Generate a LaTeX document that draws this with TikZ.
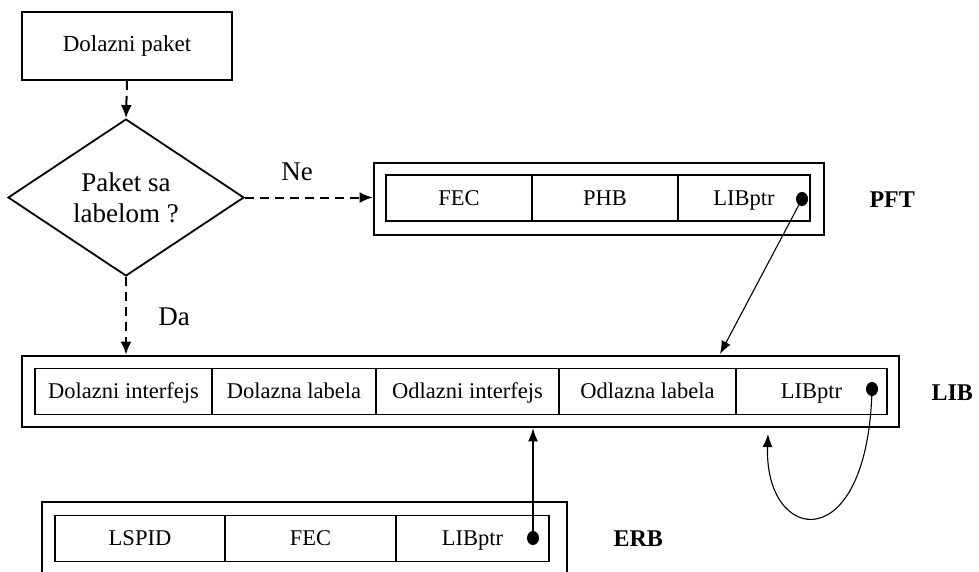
\documentclass[tikz,border=0pt]{standalone}
\usepackage{fontspec}
\setmainfont{Liberation Serif}
\usetikzlibrary{shapes.geometric,arrows.meta,calc}

\begin{document}
\begin{tikzpicture}[x=1pt,y=-1pt,
  tablefont/.style={font=\fontsize{22.5}{26}\selectfont},
  bigfont/.style={font=\fontsize{27}{32}\selectfont},
  frame/.style={draw, line width=2.8pt, inner sep=0pt, minimum height=#1},
  cell/.style={draw, line width=1.1pt, inner sep=0pt, minimum height=46pt, minimum width=#1,
    text height=17pt, text depth=3pt, tablefont},
  ptrdot/.style={ellipse, fill=black, inner sep=0pt, minimum width=12pt, minimum height=14pt},
  tablename/.style={anchor=west, font=\fontsize{24}{28}\selectfont\bfseries},
  dasharrow/.style={line width=2pt, dash pattern=on 9pt off 6pt, -{Latex[length=13pt,width=11pt]}},
  ptrarrow/.style={line width=1.1pt, -{Latex[length=13pt,width=10pt]}},
]
\clip (0,0) rectangle (979,571);

% start box and decision
\node[draw, line width=1.8pt, minimum width=210pt, minimum height=68pt, inner sep=0pt,
  font=\fontsize{23}{27}\selectfont] (start) at (127,46) {Dolazni paket};
\node[diamond, draw, line width=1.8pt, inner sep=0pt, minimum width=236pt, minimum height=157pt]
  (dec) at (126,197.5) {};
\node[bigfont, align=center] (dectext) at (dec.center) {Paket sa\\[-1pt]labelom ?};

% PFT table
\node[frame=72pt, minimum width=450pt] (pft) at (599,199) {};
\node[cell=146pt] (pft1) at (459,198) {FEC};
\node[cell=146pt] (pft2) at (605,198) {PHB};
\node[cell=132pt] (pft3) at (744,198) {LIBptr};
\node[ptrdot] (pftdot) at (802,199) {};
\node[tablename] (pftname) at (866,200) {PFT};

% LIB table
\node[frame=71pt, minimum width=877pt] (lib) at (460.5,391.5) {};
\node[cell=177pt] (lib1) at (123.5,391.5) {Dolazni interfejs};
\node[cell=164pt] (lib2) at (294,391.5) {Dolazna labela};
\node[cell=183pt] (lib3) at (467.5,391.5) {Odlazni interfejs};
\node[cell=177pt] (lib4) at (647.5,391.5) {Odlazna labela};
\node[cell=151pt] (lib5) at (811.5,391.5) {LIBptr};
\node[ptrdot] (libdot) at (872,389) {};
\node[tablename] (libname) at (928,393) {LIB};

% ERB table
\node[frame=90pt, minimum width=525pt] (erb) at (304.5,547) {};
\node[cell=170pt] (erb1) at (140,538.5) {LSPID};
\node[cell=171pt] (erb2) at (310.5,538.5) {FEC};
\node[cell=153pt] (erb3) at (472.5,538.5) {LIBptr};
\node[ptrdot] (erbdot) at (533,538) {};
\node[tablename] (erbname) at (610,539) {ERB};

% flow connectors
\draw[dasharrow] (start.south) -- (dec.north);
\draw[dasharrow] (dec.east) -- (dec.east -| pft.west);
\draw[dasharrow] (dec.south) -- (dec.south |- lib.north);
\node[bigfont] (ne) at (297,172) {Ne};
\node[bigfont] (da) at (174,317) {Da};

% pointer connectors
\coordinate (libtop) at (720,354);
\coordinate (libloop) at (768,434);
\draw[ptrarrow] (pftdot.center) -- (libtop);
\draw[ptrarrow] (erbdot.center) -- (erbdot.center |- lib.south);
\draw[ptrarrow] (libdot.center) .. controls (868,560) and (764,545) .. (libloop);
\end{tikzpicture}
\end{document}
